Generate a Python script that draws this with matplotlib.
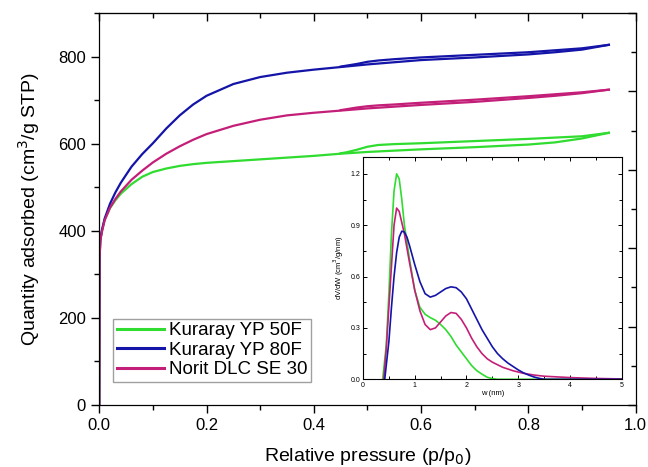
import matplotlib
matplotlib.use("Agg")
import matplotlib.pyplot as plt
from matplotlib.ticker import MultipleLocator

plt.rcParams["font.family"] = ["Liberation Sans", "DejaVu Sans"]

GREEN = "#2fdc2f"
BLUE = "#1414a8"
MAGENTA = "#c41f78"

## isotherms (adsorption branch, then desorption branch)
p_ads = [0.0, 0.0005, 0.002, 0.005, 0.01, 0.02, 0.03, 0.04, 0.06, 0.08, 0.1, 0.125, 0.15,
         0.175, 0.2, 0.25, 0.3, 0.35, 0.4, 0.45, 0.5, 0.55, 0.6, 0.7, 0.8, 0.85, 0.9, 0.95]
yp50_ads = [0, 330, 378, 400, 425, 452, 470, 485, 507, 524, 535, 543, 549,
            553, 556, 560, 564, 568, 572, 577, 581, 584, 587, 592, 598, 603, 612, 625]
yp80_ads = [0, 340, 380, 402, 428, 462, 488, 510, 547, 576, 601, 635, 665,
            690, 710, 737, 753, 763, 770, 776, 782, 787, 792, 798, 805, 810, 816, 827]
dlc_ads = [0, 335, 378, 398, 424, 453, 473, 490, 517, 538, 557, 577, 594,
           609, 622, 641, 655, 665, 671, 676, 681, 685, 689, 696, 705, 710, 716, 724]

p_des = [0.95, 0.9, 0.8, 0.7, 0.6, 0.55, 0.52, 0.5, 0.48, 0.46, 0.45]
yp50_des = [625, 617, 611, 606, 601, 599, 597, 593, 586, 580, 578]
yp80_des = [827, 819, 810, 804, 798, 794, 791, 788, 783, 779, 777]
dlc_des = [724, 718, 709, 701, 694, 690, 688, 686, 683, 679, 677]

## pore size distribution (inset)
w_yp50 = [0.38, 0.45, 0.5, 0.55, 0.6, 0.65, 0.7, 0.75, 0.8, 0.9, 1.0, 1.1, 1.2, 1.3, 1.4,
          1.5, 1.6, 1.7, 1.8, 1.9, 2.0, 2.1, 2.2, 2.3, 2.4, 2.5, 2.6, 3.0, 4.0, 5.0]
psd_yp50 = [0.0, 0.2, 0.5, 0.85, 1.1, 1.2, 1.17, 1.05, 0.9, 0.7, 0.52, 0.42, 0.38, 0.36, 0.345,
            0.32, 0.29, 0.25, 0.2, 0.16, 0.12, 0.08, 0.05, 0.03, 0.012, 0.004, 0.0, 0.0, 0.0, 0.0]
w_yp80 = [0.42, 0.5, 0.55, 0.6, 0.65, 0.7, 0.75, 0.8, 0.85, 0.9, 1.0, 1.1, 1.2, 1.3, 1.4, 1.5,
          1.6, 1.7, 1.8, 1.9, 2.0, 2.1, 2.2, 2.3, 2.4, 2.5, 2.6, 2.7, 2.8, 2.9, 3.0, 3.1,
          3.2, 3.3, 3.4, 3.5, 4.0, 5.0]
psd_yp80 = [0.0, 0.22, 0.42, 0.6, 0.74, 0.83, 0.865, 0.86, 0.83, 0.78, 0.67, 0.57, 0.5, 0.48,
            0.49, 0.51, 0.53, 0.54, 0.535, 0.51, 0.47, 0.41, 0.35, 0.29, 0.24, 0.19, 0.15,
            0.12, 0.095, 0.075, 0.055, 0.038, 0.025, 0.014, 0.006, 0.0, 0.0, 0.0]
w_dlc = [0.4, 0.45, 0.5, 0.55, 0.6, 0.65, 0.7, 0.8, 0.9, 1.0, 1.1, 1.2, 1.3, 1.4, 1.5, 1.6,
         1.7, 1.8, 1.9, 2.0, 2.1, 2.2, 2.3, 2.4, 2.5, 2.7, 2.9, 3.1, 3.3, 3.5, 4.0, 4.5, 5.0]
psd_dlc = [0.0, 0.18, 0.42, 0.66, 0.9, 1.0, 0.98, 0.85, 0.68, 0.52, 0.4, 0.32, 0.29, 0.3,
           0.335, 0.37, 0.39, 0.385, 0.35, 0.3, 0.24, 0.19, 0.15, 0.12, 0.1, 0.07, 0.05,
           0.035, 0.025, 0.018, 0.01, 0.005, 0.002]

labels = ["Kuraray YP 50F", "Kuraray YP 80F", "Norit DLC SE 30"]

fig = plt.figure(figsize=(6.48, 4.67), dpi=100)
ax = fig.add_axes([0.1532, 0.1328, 0.8278, 0.8393])

for ads, des, c, lab in [(yp50_ads, yp50_des, GREEN, labels[0]),
                         (yp80_ads, yp80_des, BLUE, labels[1]),
                         (dlc_ads, dlc_des, MAGENTA, labels[2])]:
    ax.plot(p_ads, ads, color=c, lw=1.6, label=lab)
    ax.plot(p_des, des, color=c, lw=1.6)

ax.set_xlim(0, 1.0)
ax.set_ylim(0, 900)
ax.xaxis.set_major_locator(MultipleLocator(0.2))
ax.xaxis.set_minor_locator(MultipleLocator(0.1))
ax.yaxis.set_major_locator(MultipleLocator(200))
ax.yaxis.set_minor_locator(MultipleLocator(100))
ax.tick_params(which="both", direction="out", top=False, right=False, labelsize=12, width=1)
ax.tick_params(which="major", length=6)
ax.tick_params(which="minor", length=3.5)
ax.xaxis.set_major_formatter(plt.FuncFormatter(lambda v, _: f"{v:.1f}"))
ax.set_xlabel("Relative pressure (p/p$_0$)", fontsize=14, labelpad=9)
ax.set_ylabel("Quantity adsorbed (cm$^3$/g STP)", fontsize=14, labelpad=12)

# mirrored ticks on top and right (inward)
axt = ax.secondary_xaxis("top")
axt.xaxis.set_major_locator(MultipleLocator(0.2))
axt.xaxis.set_minor_locator(MultipleLocator(0.1))
axt.tick_params(which="both", direction="in", labeltop=False, width=1)
axt.tick_params(which="major", length=6)
axt.tick_params(which="minor", length=3.5)
axr = ax.twinx()
axr.set_ylim(0, 1)
axr.yaxis.set_major_locator(MultipleLocator(0.2))
axr.yaxis.set_minor_locator(MultipleLocator(0.1))
axr.tick_params(which="both", direction="in", labelright=False, width=1)
axr.tick_params(which="major", length=6)
axr.tick_params(which="minor", length=3.5)

leg = ax.legend(loc="lower left", bbox_to_anchor=(0.0255, 0.0587), borderaxespad=0,
                fontsize=13.5, handlelength=2.5, handletextpad=0.3, labelspacing=0.12,
                borderpad=0.2, fancybox=False, frameon=True)
leg.get_frame().set_edgecolor("#888888")
leg.get_frame().set_linewidth(1.0)
for h in leg.get_lines():
    h.set_linewidth(2.2)

## inset
ins = fig.add_axes([363 / 648, 1 - 379.3 / 467, 258.7 / 648, 222.6 / 467])
ins.plot(w_yp50, psd_yp50, color=GREEN, lw=1.2)
ins.plot(w_dlc, psd_dlc, color=MAGENTA, lw=1.2)
ins.plot(w_yp80, psd_yp80, color=BLUE, lw=1.2)
ins.set_xlim(0, 5)
ins.set_ylim(0, 1.3)
ins.xaxis.set_major_locator(MultipleLocator(1))
ins.xaxis.set_minor_locator(MultipleLocator(0.5))
ins.yaxis.set_major_locator(MultipleLocator(0.3))
ins.yaxis.set_minor_locator(MultipleLocator(0.15))
ins.yaxis.set_major_formatter(plt.FuncFormatter(lambda v, _: f"{v:.1f}"))
ins.tick_params(which="both", direction="in", top=True, right=True, labelsize=5,
                width=0.7, pad=2)
ins.tick_params(which="major", length=3)
ins.tick_params(which="minor", length=2)
for s in ins.spines.values():
    s.set_linewidth(0.8)
ins.set_xlabel("w (nm)", fontsize=5.5, labelpad=1)
ins.set_ylabel("dV/dW (cm$^3$/g/nm)", fontsize=5.5, labelpad=3)

plt.savefig("out.png", dpi=100)
